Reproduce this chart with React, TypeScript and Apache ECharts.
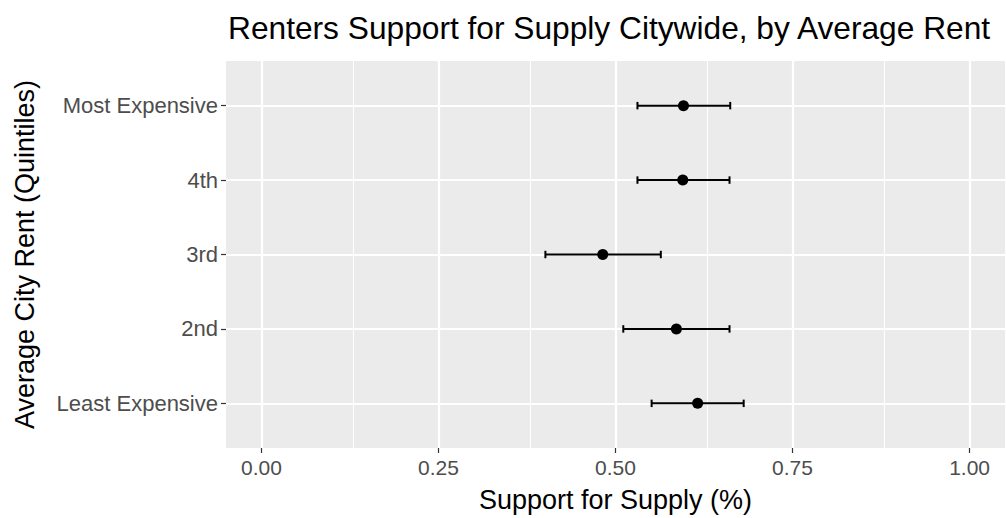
import React, { useEffect, useRef } from "react";
import * as echarts from "echarts";

const categories = ["Least Expensive", "2nd", "3rd", "4th", "Most Expensive"];
const estimates = [0.616, 0.586, 0.482, 0.595, 0.596];
const lower = [0.551, 0.511, 0.401, 0.531, 0.531];
const upper = [0.681, 0.661, 0.564, 0.661, 0.662];
const xMajor = [0, 0.25, 0.5, 0.75, 1];
const xMinor = [0.125, 0.375, 0.625, 0.875];
const yPositions = categories.map((_, i) => i + 1);

const FONT = '"Liberation Sans", Arial, Helvetica, sans-serif';

export default function App() {
  const ref = useRef<HTMLDivElement>(null);
  useEffect(() => {
    if (!ref.current) return;
    const chart = echarts.init(ref.current, null, { renderer: "svg" });
    const gridLines: any[] = [
      ...xMinor.map((v) => ({ xAxis: v, lineStyle: { color: "#FFFFFF", width: 1.1, type: "solid" } })),
      ...xMajor.map((v) => ({ xAxis: v, lineStyle: { color: "#FFFFFF", width: 2.2, type: "solid" } })),
      ...yPositions.map((v) => ({ yAxis: v, lineStyle: { color: "#FFFFFF", width: 2.2, type: "solid" } })),
    ];
    chart.setOption({
      animation: false,
      title: {
        text: "Renters Support for Supply Citywide, by Average Rent",
        left: 228,
        top: 12,
        padding: 0,
        textStyle: { fontFamily: FONT, fontSize: 31.7, fontWeight: "normal", color: "#000000" },
      },
      grid: {
        left: 226,
        right: 1,
        top: 61,
        bottom: 66,
        show: true,
        backgroundColor: "#EBEBEB",
        borderWidth: 0,
      },
      xAxis: {
        type: "value",
        min: -0.05,
        max: 1.05,
        name: "Support for Supply (%)",
        nameLocation: "middle",
        nameGap: 38,
        nameTextStyle: { fontFamily: FONT, fontSize: 27, color: "#000000" },
        axisLine: { show: true, onZero: false, lineStyle: { color: "rgba(0,0,0,0)" } },
        splitLine: { show: false },
        axisTick: {
          show: true,
          customValues: xMajor,
          length: 5,
          lineStyle: { color: "#333333", width: 1.2 },
        },
        axisLabel: {
          customValues: xMajor,
          formatter: (v: number) => v.toFixed(2),
          margin: 9,
          fontFamily: FONT,
          fontSize: 21,
          color: "#4D4D4D",
        },
      },
      yAxis: {
        type: "value",
        min: 0.4,
        max: 5.6,
        name: "Average City Rent (Quintiles)",
        nameLocation: "middle",
        nameGap: 188,
        nameTextStyle: { fontFamily: FONT, fontSize: 27, color: "#000000" },
        axisLine: { show: true, onZero: false, lineStyle: { color: "rgba(0,0,0,0)" } },
        splitLine: { show: false },
        axisTick: {
          show: true,
          customValues: yPositions,
          length: 5,
          lineStyle: { color: "#333333", width: 1.2 },
        },
        axisLabel: {
          customValues: yPositions,
          formatter: (v: number) => categories[Math.round(v) - 1] ?? "",
          margin: 8,
          fontFamily: FONT,
          fontSize: 22,
          color: "#4D4D4D",
        },
      },
      series: [
        {
          type: "scatter",
          data: [],
          z: 1,
          silent: true,
          markLine: {
            z: 0,
            silent: true,
            symbol: ["none", "none"],
            label: { show: false },
            emphasis: { disabled: true },
            data: gridLines,
          },
        },
        {
          type: "custom",
          z: 3,
          encode: { x: [1, 2], y: 0 },
          data: yPositions.map((y, i) => [y, lower[i], upper[i]]),
          renderItem: (params: any, api: any) => {
            const y = api.value(0);
            const lo = api.value(1);
            const hi = api.value(2);
            const p1 = api.coord([lo, y]);
            const p2 = api.coord([hi, y]);
            const h = api.size([0, 0.1])[1] / 2;
            const style = { stroke: "#000000", lineWidth: 2, fill: "none" };
            return {
              type: "group",
              children: [
                { type: "line", shape: { x1: p1[0], y1: p1[1], x2: p2[0], y2: p2[1] }, style },
                { type: "line", shape: { x1: p1[0], y1: p1[1] - h, x2: p1[0], y2: p1[1] + h }, style },
                { type: "line", shape: { x1: p2[0], y1: p2[1] - h, x2: p2[0], y2: p2[1] + h }, style },
              ],
            };
          },
        },
        {
          type: "scatter",
          z: 4,
          symbol: "circle",
          symbolSize: 11,
          itemStyle: { color: "#000000", opacity: 1 },
          data: estimates.map((v, i) => [v, yPositions[i]]),
        },
      ],
    });
    return () => chart.dispose();
  }, []);
  return (
    <div
      ref={ref}
      style={{ position: "absolute", left: 0, top: 0, width: 1006, height: 518 }}
    />
  );
}
